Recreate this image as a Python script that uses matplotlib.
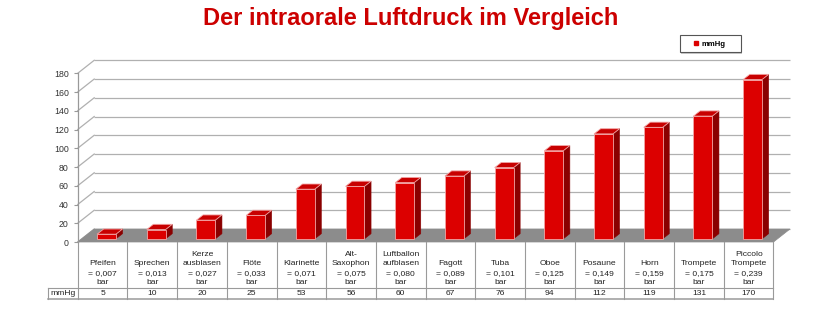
import matplotlib
matplotlib.use("Agg")
import matplotlib.pyplot as plt
from matplotlib.patches import Polygon, Rectangle
from matplotlib.lines import Line2D

plt.rcParams['font.family'] = ['Liberation Sans', 'DejaVu Sans']

# Instruments / activities, their pressure in bar and in mmHg
instruments = ["Pfeifen", "Sprechen", "Kerze\nausblasen", "Flöte", "Klarinette",
               "Alt-\nSaxophon", "Luftballon\naufblasen", "Fagott", "Tuba", "Oboe",
               "Posaune", "Horn", "Trompete", "Piccolo\nTrompete"]
pressure_bar = [0.007, 0.013, 0.027, 0.033, 0.071, 0.075, 0.080, 0.089, 0.101,
                0.125, 0.149, 0.159, 0.175, 0.239]
pressure_mmhg = [5, 10, 20, 25, 53, 56, 60, 67, 76, 94, 112, 119, 131, 170]
y_ticks = [0, 20, 40, 60, 80, 100, 120, 140, 160, 180]
series_name = "mmHg"
title = "Der intraorale Luftdruck im Vergleich"

RED_FRONT = "#dc0000"
RED_TOP = "#c80000"
RED_SIDE = "#8a0000"
EDGE = "#f3a5a5"
GRID = "#b0b0b0"
FLOOR = "#8c8c8c"
TABLE = "#9a9a9a"
TEXT = "#222222"

W, H = 822, 323
fig = plt.figure(figsize=(W / 100, H / 100), dpi=100, facecolor="white")

# plot area in pixels
left_px, right_px = 77.7, 773.5
base_px, top_px = 242.0, 73.3
ax = fig.add_axes([left_px / W, 1 - base_px / H,
                   (right_px - left_px) / W, (base_px - top_px) / H])
n = len(pressure_mmhg)
ax.set_xlim(-0.5, n - 0.5)
ax.set_ylim(y_ticks[0], y_ticks[-1])
ax.set_facecolor("none")

px_x = (right_px - left_px) / n
px_y = (base_px - top_px) / (y_ticks[-1] - y_ticks[0])


def dxu(px):
    return px / px_x


def dyu(px):
    return px / px_y


# depth of the 3D floor
DX, DY = dxu(16.5), dyu(13)
x_lo, x_hi = -0.5, n - 0.5

# back wall grid lines and left wall diagonals
for v in y_ticks:
    ax.plot([x_lo + DX, x_hi + DX], [v + DY, v + DY], color=GRID, lw=0.9,
            clip_on=False, zorder=1, solid_capstyle="butt")
    ax.plot([x_lo, x_lo + DX], [v, v + DY], color=GRID, lw=0.9,
            clip_on=False, zorder=1)

# floor
floor = Polygon([(x_lo, 0), (x_hi, 0), (x_hi + DX, DY), (x_lo + DX, DY)],
                closed=True, facecolor=FLOOR, edgecolor=FLOOR, lw=0.5,
                clip_on=False, zorder=2)
ax.add_patch(floor)

# 3D bars
bar_w = 0.38
f0, fd = 0.24, 0.40
ox, oy = f0 * DX, f0 * DY
bx, by = fd * DX, fd * DY
for i, v in enumerate(pressure_mmhg):
    xl = i - bar_w / 2 + ox
    xr = i + bar_w / 2 + ox
    yb, yt = oy, oy + v
    side = Polygon([(xr, yb), (xr + bx, yb + by), (xr + bx, yt + by), (xr, yt)],
                   closed=True, facecolor=RED_SIDE, edgecolor=RED_SIDE, lw=0.4,
                   clip_on=False, zorder=3)
    top = Polygon([(xl, yt), (xr, yt), (xr + bx, yt + by), (xl + bx, yt + by)],
                  closed=True, facecolor=RED_TOP, edgecolor=EDGE, lw=0.6,
                  clip_on=False, zorder=4)
    front = Polygon([(xl, yb), (xr, yb), (xr, yt), (xl, yt)],
                    closed=True, facecolor=RED_FRONT, edgecolor=EDGE, lw=0.6,
                    clip_on=False, zorder=5)
    for p in (side, top, front):
        ax.add_patch(p)

# value axis
for s in ("top", "right", "bottom"):
    ax.spines[s].set_visible(False)
ax.spines["left"].set_color("#999999")
ax.spines["left"].set_linewidth(0.9)
ax.spines["left"].set_bounds(y_ticks[0], y_ticks[-1])
ax.set_yticks(y_ticks)
ax.set_xticks([])
ax.tick_params(axis="y", length=3, width=0.8, color="#999999",
               labelsize=6.3, labelcolor="#333333", pad=3.5)

# data table below the chart
y_row1 = -dyu(45.5)
y_row2 = -dyu(57)
hdr_left = x_lo - dxu(29.7)
for k in range(n + 1):
    ax.plot([x_lo + k, x_lo + k], [0, y_row2], color=TABLE, lw=0.8,
            clip_on=False, zorder=2)
ax.plot([hdr_left, x_hi], [y_row1, y_row1], color=TABLE, lw=0.8, clip_on=False)
ax.plot([hdr_left, x_hi], [y_row2, y_row2], color=TABLE, lw=1.1, clip_on=False)
ax.plot([hdr_left, hdr_left], [y_row1, y_row2], color=TABLE, lw=0.8, clip_on=False)

for i, (name, b, v) in enumerate(zip(instruments, pressure_bar, pressure_mmhg)):
    label = f"{name}\n= {b:.3f}".replace(".", ",") + "\nbar"
    ax.text(i, y_row1 + dyu(1.3), label, ha="center", va="bottom",
            fontsize=6.1, color=TEXT, linespacing=1.48, clip_on=False)
    ax.text(i, (y_row1 + y_row2) / 2, str(v), ha="center", va="center",
            fontsize=6.1, color=TEXT, clip_on=False)
ax.text(hdr_left + dxu(2), (y_row1 + y_row2) / 2, series_name, ha="left",
        va="center", fontsize=6.1, color=TEXT, clip_on=False)

# title
fig.text(411 / W, 1 - 18 / H, title, ha="center", va="center", fontsize=17,
         fontweight="bold", color="#cc0000")

# legend with a boxed frame and soft shadow
fig.add_artist(Rectangle((680.7 / W, 1 - 53.5 / H), 61.5 / W, 17.3 / H,
                         transform=fig.transFigure, facecolor="#c8c8c8",
                         edgecolor="none", zorder=5))
fig.add_artist(Rectangle((679.5 / W, 1 - 52.3 / H), 61.5 / W, 17.3 / H,
                         transform=fig.transFigure, facecolor="white",
                         edgecolor="#555555", lw=0.8, zorder=6))
handle = Line2D([], [], marker="s", linestyle="none", markersize=2.9,
                markerfacecolor=RED_FRONT, markeredgecolor=RED_FRONT)
leg = fig.legend(handles=[handle], labels=[series_name], loc="center left",
                 bbox_to_anchor=(693.7 / W, 1 - 44.3 / H),
                 bbox_transform=fig.transFigure,
                 prop={"weight": "bold", "size": 5.6},
                 handlelength=0.6, handletextpad=0.45, borderpad=0,
                 borderaxespad=0, frameon=False)
leg.set_zorder(7)

fig.savefig("out.png", dpi=100, facecolor="white")
